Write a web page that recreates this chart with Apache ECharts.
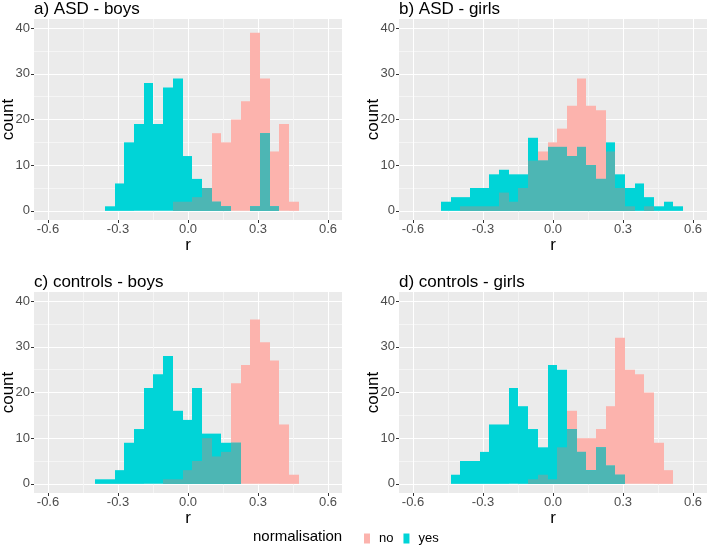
<!DOCTYPE html>
<html lang="en">
<head>
<meta charset="UTF-8">
<title>r histograms</title>
<style>
    html, body { margin: 0; padding: 0; background: #fff; }
    #chart { width: 708px; height: 545px; }
</style>
</head>
<body>
<div id="chart"></div>
<script src="https://cdn.jsdelivr.net/npm/echarts@6/dist/echarts.min.js"></script>
<script>
// bins shared by all panels: bin k covers [binStart + k*binWidth, binStart + (k+1)*binWidth]
var binStart = -0.48;
var binWidth = 0.0415;

var panelTitles = ['a) ASD - boys', 'b) ASD - girls', 'c) controls - boys', 'd) controls - girls'];

// counts per bin (25 bins)
var asdBoysNo   = [0,0,0,0,0,0,0,0,0,0,2,2,3,5,17,15,20,24,39,29,13,19,2,0,0];
var asdBoysYes  = [0,0,0,1,6,15,19,28,19,27,29,12,7,5,2,1,0,0,1,17,1,0,0,0,0];
var asdGirlsNo  = [0,0,1,1,1,1,4,2,5,11,13,15,18,23,29,23,22,13,5,1,0,1,0,0,0];
var asdGirlsYes = [2,3,3,5,5,8,9,8,8,16,11,14,14,12,14,10,7,15,8,5,6,3,1,2,1];
var ctrlBoysNo  = [0,0,0,0,0,0,0,0,0,1,1,3,5,10,6,7,22,26,36,31,27,13,2,0,0];
var ctrlBoysYes = [0,0,1,1,3,9,12,21,24,28,16,14,21,11,11,9,9,0,0,0,0,0,0,0,0];
var ctrlGirlsNo  = [0,0,0,0,0,0,0,0,0,1,2,1,8,16,10,10,12,17,32,25,24,20,9,3,0];
var ctrlGirlsYes = [0,2,5,5,7,13,13,21,17,12,8,26,25,12,7,3,8,4,2,0,0,0,0,0,0];

var xTicks = [-0.6, -0.3, 0, 0.3, 0.6];
var xMinor = [-0.45, -0.15, 0.15, 0.45];
var yTicks = [0, 10, 20, 30, 40];
var yMinor = [5, 15, 25, 35];

var panels = [
    { no: asdBoysNo, yes: asdBoysYes },
    { no: asdGirlsNo, yes: asdGirlsYes },
    { no: ctrlBoysNo, yes: ctrlBoysYes },
    { no: ctrlGirlsNo, yes: ctrlGirlsYes }
];

var gridPos = [
    { left: 34, top: 19 },
    { left: 399, top: 19 },
    { left: 34, top: 292 },
    { left: 399, top: 292 }
];

var pink = '#FCB3AD';
var cyan = '#00D4D7';
var teal = '#4DB6B4';
var font = 'Liberation Sans';

function toBars(counts) {
    var out = [];
    counts.forEach(function (n, k) {
        if (n > 0) out.push([binStart + k * binWidth, binStart + (k + 1) * binWidth, n]);
    });
    return out;
}

function renderBar(params, api) {
    var p0 = api.coord([api.value(0), api.value(2)]);
    var p1 = api.coord([api.value(1), 0]);
    var x0 = Math.round(p0[0]), x1 = Math.round(p1[0]);
    return {
        type: 'rect',
        shape: { x: x0, y: p0[1], width: x1 - x0, height: p1[1] - p0[1] },
        style: { fill: api.visual('color') }
    };
}

var noLine = { show: false, onZero: false };
var grids = [], xAxes = [], yAxes = [], titles = [], series = [];

panels.forEach(function (p, i) {
    grids.push({
        left: gridPos[i].left, top: gridPos[i].top, width: 308, height: 201,
        containLabel: false, outerBoundsMode: 'none',
        show: true, backgroundColor: '#EBEBEB', borderWidth: 0
    });
    titles.push({
        text: panelTitles[i], left: gridPos[i].left, top: gridPos[i].top - 18, padding: 0,
        textStyle: { fontSize: 17, fontWeight: 'normal', color: '#000', fontFamily: font }
    });
    // major x axis
    xAxes.push({
        type: 'value', gridIndex: i, min: -0.66, max: 0.66,
        name: 'r', nameLocation: 'middle', nameGap: 15,
        nameTextStyle: { fontSize: 17, color: '#000', fontFamily: font },
        axisLine: noLine,
        axisTick: { show: true, length: 3, lineStyle: { color: '#333' }, customValues: xTicks },
        axisLabel: {
            customValues: xTicks, margin: 3, fontSize: 13, color: '#4D4D4D', fontFamily: font,
            formatter: function (v) { return v.toFixed(1); }
        },
        splitLine: { show: true, lineStyle: { color: '#fff', width: 1 } }
    });
    // minor x grid
    xAxes.push({
        type: 'value', gridIndex: i, min: -0.66, max: 0.66, position: 'bottom',
        axisLine: noLine,
        axisTick: { show: false, customValues: xMinor },
        axisLabel: { show: false },
        splitLine: { show: true, lineStyle: { color: '#F5F5F5', width: 1 } }
    });
    yAxes.push({
        type: 'value', gridIndex: i, min: -2, max: 42,
        name: 'count', nameLocation: 'middle', nameGap: 17, nameMoveOverlap: false,
        nameTextStyle: { fontSize: 17, color: '#000', fontFamily: font },
        axisLine: noLine,
        axisTick: { show: true, length: 3, lineStyle: { color: '#333' }, customValues: yTicks },
        axisLabel: { customValues: yTicks, margin: 4, fontSize: 13, color: '#4D4D4D', fontFamily: font },
        splitLine: { show: true, lineStyle: { color: '#fff', width: 1 } }
    });
    yAxes.push({
        type: 'value', gridIndex: i, min: -2, max: 42, position: 'left',
        axisLine: noLine,
        axisTick: { show: false, customValues: yMinor },
        axisLabel: { show: false },
        splitLine: { show: true, lineStyle: { color: '#F5F5F5', width: 1 } }
    });

    var overlap = p.no.map(function (n, k) { return Math.min(n, p.yes[k]); });
    [['no', p.no, pink], ['yes', p.yes, cyan], ['overlap', overlap, teal]].forEach(function (s) {
        series.push({
            type: 'custom', name: s[0],
            xAxisIndex: 2 * i, yAxisIndex: 2 * i,
            itemStyle: { color: s[2] },
            encode: { x: [0, 1], y: 2 },
            silent: true,
            renderItem: renderBar,
            data: toBars(s[1])
        });
    });
});

var myChart = echarts.init(document.getElementById('chart'));
myChart.setOption({
    animation: false,
    textStyle: { fontFamily: font },
    title: titles,
    grid: grids,
    xAxis: xAxes,
    yAxis: yAxes,
    legend: {
        data: ['no', 'yes'],
        left: 364, top: 532, padding: 0,
        icon: 'rect', itemWidth: 6, itemHeight: 10, itemGap: 10,
        textStyle: { fontSize: 13, color: '#000', fontFamily: font, padding: [0, 0, 0, 4] }
    },
    graphic: [{
        type: 'text', left: 253, top: 529,
        style: { text: 'normalisation', fontSize: 15, fill: '#000', fontFamily: font }
    }],
    series: series
});
</script>
</body>
</html>
